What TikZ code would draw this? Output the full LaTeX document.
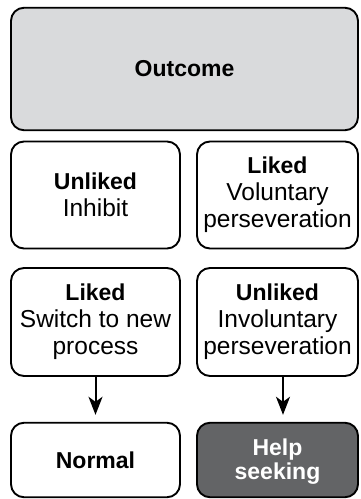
\documentclass[tikz,border=0pt]{standalone}
\usepackage{fontspec}
\setmainfont{Liberation Sans}
\usetikzlibrary{arrows.meta}
\definecolor{outfill}{HTML}{D9DADC}
\definecolor{helpfill}{HTML}{636466}
\tikzset{
  box/.style={draw=black, line width=1.9pt, rounded corners=13pt, fill=white,
    align=center, inner sep=0pt, font=\fontsize{24.5}{27}\selectfont},
  arr/.style={line width=2pt, -{Stealth[length=18pt,width=14pt,inset=5pt]}},
}
\newcommand{\hd}[1]{{\fontsize{23}{27}\selectfont\bfseries #1}}
\begin{document}
\begin{tikzpicture}[x=1pt,y={(0pt,-1pt)}]
  \useasboundingbox (0,0) rectangle (360,499);
  % top outcome panel
  \node[box, fill=outfill, minimum width=347pt, minimum height=122.5pt] (out) at (184.5,69) {\hd{Outcome}};
  % second row
  \node[box, minimum width=169pt, minimum height=107pt] (r2l) at (95.5,195) {\hd{Unliked}\\Inhibit};
  \node[box, minimum width=161pt, minimum height=107pt] (r2r) at (277.5,195) {\hd{Liked}\\Voluntary\\perseveration};
  % third row
  \node[box, minimum width=169pt, minimum height=108pt] (r3l) at (95.5,322) {\hd{Liked}\\Switch to new\\process};
  \node[box, minimum width=161pt, minimum height=108pt] (r3r) at (277.5,322) {\hd{Unliked}\\Involuntary\\perseveration};
  % outcomes
  \node[box, minimum width=169pt, minimum height=74.5pt] (nrm) at (95.5,460) {\hd{Normal}};
  \node[box, fill=helpfill, text=white, minimum width=161pt, minimum height=74.5pt] (hlp) at (277.5,460) {};
  \node[text=white, align=center, inner sep=0pt, font=\fontsize{23}{24}\selectfont\bfseries] (hlpt) at ([yshift=-2pt]hlp.center) {Help\\seeking};
  % arrows
  \draw[arr, shorten >=7pt] (r3l.south) -- (nrm.north);
  \draw[arr, shorten >=7pt] ([xshift=5.5pt]r3r.south) -- ([xshift=5.5pt]hlp.north);
\end{tikzpicture}
\end{document}
